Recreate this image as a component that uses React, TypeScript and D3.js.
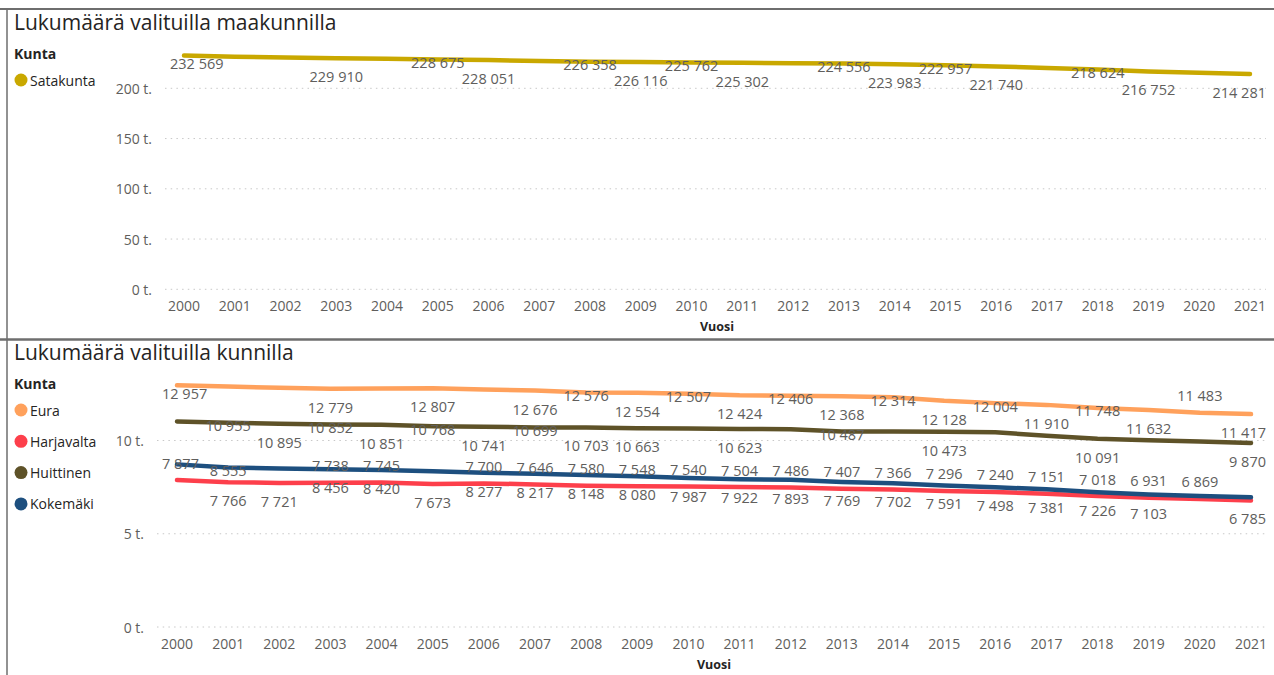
import React, { useEffect, useRef } from 'react';
import * as d3 from 'd3';

const years = ['2000', '2001', '2002', '2003', '2004', '2005', '2006', '2007', '2008', '2009', '2010',
    '2011', '2012', '2013', '2014', '2015', '2016', '2017', '2018', '2019', '2020', '2021'];

// top chart
const satakunta = [232569, 231500, 230700, 229910, 229300, 228675, 228051, 227200, 226358, 226116, 225762,
    225302, 224900, 224556, 223983, 222957, 221740, 220300, 218624, 216752, 215500, 214281];

// bottom chart
const eura = [12957, 12890, 12830, 12779, 12790, 12807, 12740, 12676, 12576, 12554, 12507,
    12424, 12406, 12368, 12314, 12128, 12004, 11910, 11748, 11632, 11483, 11417];
const harjavalta = [7877, 7766, 7721, 7738, 7745, 7673, 7700, 7646, 7580, 7548, 7540,
    7504, 7486, 7407, 7366, 7296, 7240, 7151, 7018, 6931, 6869, 6785];
const huittinen = [11020, 10955, 10895, 10852, 10851, 10768, 10741, 10699, 10703, 10663, 10650,
    10623, 10600, 10487, 10480, 10473, 10440, 10250, 10091, 10010, 9950, 9870];
const kokemaki = [8720, 8555, 8500, 8456, 8420, 8350, 8277, 8217, 8148, 8080, 7987,
    7922, 7893, 7769, 7702, 7591, 7498, 7381, 7226, 7103, 7030, 6960];

const topTicks = [0, 50000, 100000, 150000, 200000];
const bottomTicks = [0, 5000, 10000];

// data label placement per year, like Power BI left them: a = above, o = on line, m = just under, b = below, - = hidden
const labelPlacement = {
    Satakunta: 'm--b-ob-obob-obob-ob-b',
    Eura: 'm--b-b-bobobobobobobab',
    Harjavalta: 'abbaab' + 'aaaaaaaaaaaaaaa' + 'b',
    Huittinen: '-obobobobb-b-o-b--b--b',
    Kokemäki: '-o-bb-' + 'bbbbbbbbbbbbbb' + '--',
};
const labelDy = { a: -17, o: 3, m: 8, b: 18.5 };

const FONT = "'Segoe UI', 'Open Sans', sans-serif";
const GREY = '#605E5C';
const DARK = '#252423';

const fmt = (v) => d3.format(',')(v).replace(/,/g, ' ');
const fmtAxis = (v) => `${v / 1000} t.`;

const drawPanel = (svg, cfg) => {
    const { title, top, series, yDomain, yRange, xRange, gridStart, ticks } = cfg;
    const g = svg.append('g');

    g.append('text')
        .attr('x', 14).attr('y', top + 22)
        .attr('font-size', 21).attr('fill', DARK)
        .style('font-family', FONT)
        .text(title);

    // legend
    g.append('text')
        .attr('x', 14).attr('y', top + 45)
        .attr('dominant-baseline', 'central')
        .attr('font-size', 14).attr('font-weight', 'bold').attr('fill', DARK)
        .style('font-family', FONT)
        .text('Kunta');
    series.forEach((s, i) => {
        const cy = top + 72 + i * 31.3;
        g.append('circle').attr('cx', 21).attr('cy', cy).attr('r', 6.5).attr('fill', s.color);
        g.append('text')
            .attr('x', 30).attr('y', cy)
            .attr('dominant-baseline', 'central')
            .attr('font-size', 14).attr('fill', DARK)
            .style('font-family', FONT)
            .text(s.name);
    });

    const x = d3.scalePoint().domain(years).range(xRange);
    const y = d3.scaleLinear().domain(yDomain).range(yRange);

    // y axis with dotted grid
    ticks.forEach(t => {
        g.append('line')
            .attr('x1', gridStart).attr('x2', 1266)
            .attr('y1', y(t)).attr('y2', y(t))
            .attr('stroke', '#c8c8c8').attr('stroke-width', 1)
            .attr('stroke-dasharray', '1.5 4.2');
        g.append('text')
            .attr('x', gridStart - 13).attr('y', y(t))
            .attr('text-anchor', 'end').attr('dominant-baseline', 'central')
            .attr('font-size', 14).attr('fill', GREY)
            .style('font-family', FONT)
            .text(fmtAxis(t));
    });

    // x axis
    const xAxisY = y(0) + 16;
    years.forEach(yr => {
        g.append('text')
            .attr('x', x(yr)).attr('y', xAxisY)
            .attr('text-anchor', 'middle').attr('dominant-baseline', 'central')
            .attr('font-size', 14).attr('fill', GREY)
            .style('font-family', FONT)
            .text(yr);
    });
    g.append('text')
        .attr('x', (xRange[0] + xRange[1]) / 2).attr('y', xAxisY + 21)
        .attr('text-anchor', 'middle').attr('dominant-baseline', 'central')
        .attr('font-size', 12.5).attr('font-weight', 'bold').attr('fill', DARK)
        .style('font-family', FONT)
        .text('Vuosi');

    const line = d3.line()
        .x((d, i) => x(years[i]))
        .y(d => y(d));

    series.forEach(s => {
        g.append('path')
            .datum(s.values)
            .attr('d', line)
            .attr('fill', 'none')
            .attr('stroke', s.color)
            .attr('stroke-width', 4.5)
            .attr('stroke-linejoin', 'round')
            .attr('stroke-linecap', 'round');
    });

    // data labels
    series.forEach(s => {
        const place = labelPlacement[s.name];
        s.values.forEach((v, i) => {
            const p = place[i];
            if (p === '-') return;
            const label = g.append('text')
                .attr('y', y(v) + labelDy[p])
                .attr('text-anchor', 'middle').attr('dominant-baseline', 'central')
                .attr('font-size', 14.5).attr('fill', GREY)
                .style('font-family', FONT)
                .text(fmt(v));
            const w = label.node().getComputedTextLength();
            let cx = x(years[i]);
            cx = Math.min(cx, 1266 - w / 2);
            cx = Math.max(cx, gridStart + 5 + w / 2);
            label.attr('x', cx);
        });
    });
};

const App = () => {
    const svgRef = useRef();

    useEffect(() => {
        const svg = d3.select(svgRef.current);
        svg.selectAll('*').remove();

        svg.append('rect').attr('width', 1274).attr('height', 675).attr('fill', '#fff');

        drawPanel(svg, {
            title: 'Lukumäärä valituilla maakunnilla',
            top: 8,
            series: [{ name: 'Satakunta', values: satakunta, color: '#C9A800' }],
            yDomain: [0, 200000],
            yRange: [289.3, 88.3],
            xRange: [184, 1250],
            gridStart: 165,
            ticks: topTicks,
        });

        drawPanel(svg, {
            title: 'Lukumäärä valituilla kunnilla',
            top: 338,
            series: [
                { name: 'Eura', values: eura, color: '#FFA15C' },
                { name: 'Harjavalta', values: harjavalta, color: '#FD3F4B' },
                { name: 'Huittinen', values: huittinen, color: '#5E5228' },
                { name: 'Kokemäki', values: kokemaki, color: '#1D4F7F' },
            ],
            yDomain: [0, 10000],
            yRange: [627, 440.5],
            xRange: [177, 1251],
            gridStart: 157,
            ticks: bottomTicks,
        });

        // frame lines between the two visuals
        svg.append('line').attr('x1', 0).attr('x2', 1274).attr('y1', 9).attr('y2', 9)
            .attr('stroke', '#6e6e6e').attr('stroke-width', 2);
        svg.append('line').attr('x1', 0).attr('x2', 1274).attr('y1', 339.5).attr('y2', 339.5)
            .attr('stroke', '#6e6e6e').attr('stroke-width', 2.5);
        svg.append('line').attr('x1', 7).attr('x2', 7).attr('y1', 9).attr('y2', 675)
            .attr('stroke', '#6e6e6e').attr('stroke-width', 1.5);
    }, []);

    return (
        <svg ref={svgRef} width="1274" height="675"
            style={{ position: 'absolute', left: 0, top: 0, display: 'block' }} />
    );
};

export default App;
